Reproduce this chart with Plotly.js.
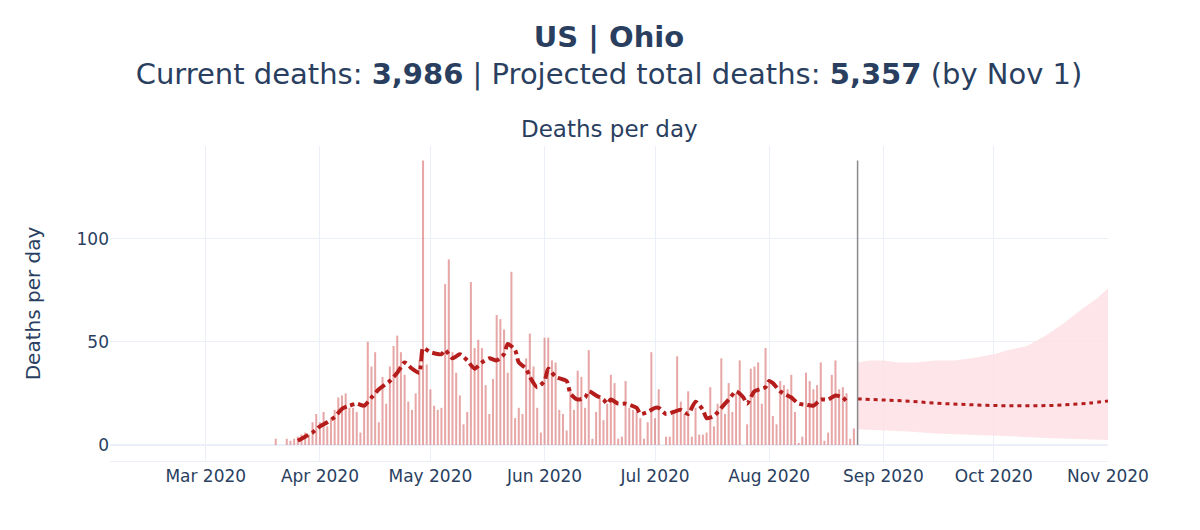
<!DOCTYPE html>
<html>
<head>
<meta charset="utf-8">
<script src="https://cdn.plot.ly/plotly-3.0.1.min.js"></script>
<style>html,body{margin:0;padding:0;background:#fff}#chart{width:1200px;height:530px}</style>
</head>
<body>
<div id="chart"></div>
<script>
// ---- data ----
const region = "US | Ohio";
const currentDeaths = "3,986";
const projectedDeaths = "5,357";
const projectionEnd = "Nov 1";
const todayDate = "2020-08-25";

const dailyStart = "2020-03-20";
const dailyDeaths = [
  3,0,0,3,2,3,4,5,6,5,11,15,            // Mar 20 - Mar 31
  11,16,9,13,17,23,24,25,18,18,16,6,18,50,38,45,11,33,20,38,48,53,45,34,21,17,25,41,138,39, // Apr
  27,19,17,18,78,90,45,35,24,10,16,79,47,51,47,29,15,32,63,61,56,35,84,13,18,15,42,54,38,18,6, // May
  52,52,41,40,17,15,7,27,17,36,33,18,46,3,16,23,12,20,34,30,3,4,31,18,17,16,13,3,11,45, // Jun
  13,27,0,4,4,16,43,21,15,26,4,18,5,5,6,28,9,20,42,15,30,16,25,41,0,10,37,38,40,20,47, // Jul
  31,14,10,31,29,27,34,16,1,4,35,31,27,29,40,2,6,34,41,27,28,25,3,8 // Aug 1 - Aug 24
];

const avgDates = ["2020-03-26","2020-03-28","2020-03-30","2020-04-01","2020-04-03","2020-04-05","2020-04-07","2020-04-09","2020-04-11","2020-04-13","2020-04-15","2020-04-17","2020-04-20","2020-04-22","2020-04-24","2020-04-26","2020-04-28","2020-04-29","2020-05-01","2020-05-04","2020-05-05","2020-05-07","2020-05-09","2020-05-11","2020-05-13","2020-05-15","2020-05-17","2020-05-19","2020-05-21","2020-05-22","2020-05-24","2020-05-25","2020-05-27","2020-05-28","2020-05-30","2020-06-01","2020-06-02","2020-06-04","2020-06-07","2020-06-08","2020-06-10","2020-06-12","2020-06-13","2020-06-15","2020-06-17","2020-06-18","2020-06-19","2020-06-21","2020-06-23","2020-06-26","2020-06-27","2020-06-29","2020-07-01","2020-07-02","2020-07-04","2020-07-06","2020-07-08","2020-07-10","2020-07-12","2020-07-14","2020-07-15","2020-07-17","2020-07-19","2020-07-21","2020-07-23","2020-07-25","2020-07-26","2020-07-28","2020-07-31","2020-08-01","2020-08-02","2020-08-04","2020-08-07","2020-08-09","2020-08-11","2020-08-13","2020-08-15","2020-08-17","2020-08-19","2020-08-21","2020-08-22"];
const avgValues = [2,4,6,9,11,13.5,17.5,19,20,19,23,27,31,35,40,37,35,47,45,44,46,42,44,41,37,40,42,41,44,49,46,40,37,33,28,31,37,33,31,25,22,23,26,24,22,20,22,20,20,18,15,16,18,18,15,16,17,15,21,17,13,14,18,22,26,23,20,26,28,31,30,26,23,20,19.5,19,22,22,24,23,21];

const projDates = ["2020-08-25","2020-09-01","2020-09-08","2020-09-15","2020-09-22","2020-09-29","2020-10-06","2020-10-13","2020-10-20","2020-10-27","2020-11-01"];
const projValues = [22.3,21.8,21.2,20.3,19.7,19.2,19.0,19.0,19.4,20.3,21.3];

const upperDates = ["2020-08-25","2020-08-28","2020-09-01","2020-09-05","2020-09-10","2020-09-15","2020-09-20","2020-09-25","2020-10-01","2020-10-05","2020-10-10","2020-10-15","2020-10-20","2020-10-25","2020-10-29","2020-11-01"];
const upperValues = [40,41,41,40,40,41,41,42,44,46,48,53,59,66,71,76];
const lowerDates = ["2020-08-25","2020-09-01","2020-09-08","2020-09-15","2020-09-22","2020-10-01","2020-10-08","2020-10-15","2020-10-22","2020-11-01"];
const lowerValues = [7.6,7,6.5,5.5,5,4.4,4,3.4,2.8,2.4];

// ---- build ----
function dateSeq(start, n) {
  const out = [];
  const d0 = new Date(start + "T00:00:00Z");
  for (let i = 0; i < n; i++) {
    const d = new Date(d0.getTime() + i * 86400000);
    out.push(d.toISOString().slice(0, 10));
  }
  return out;
}
const dailyDates = dateSeq(dailyStart, dailyDeaths.length);
const maxDeaths = Math.max(...dailyDeaths);

const textColor = "#2a3f5f";
const gridColor = "#EBF0F8";
const font = "DejaVu Sans, Verdana, sans-serif";

const traces = [
  {
    type: "scatter", mode: "lines",
    x: upperDates.concat(lowerDates.slice().reverse()),
    y: upperValues.concat(lowerValues.slice().reverse()),
    fill: "toself", fillcolor: "rgba(253,222,227,0.8)",
    line: {width: 0}, hoverinfo: "skip", showlegend: false
  },
  {
    type: "bar", x: dailyDates, y: dailyDeaths,
    marker: {color: "rgba(210,80,80,0.5)"}, showlegend: false
  },
  {
    type: "scatter", mode: "lines", x: avgDates, y: avgValues,
    line: {color: "#b51c1c", width: 4, dash: "dashdot", shape: "spline", smoothing: 0.6},
    showlegend: false
  },
  {
    type: "scatter", mode: "lines", x: projDates, y: projValues,
    line: {color: "#b51c1c", width: 3, dash: "4px,4px", shape: "spline"},
    showlegend: false
  }
];

const layout = {
  width: 1200, height: 530,
  paper_bgcolor: "#fff", plot_bgcolor: "#fff",
  font: {family: font, color: textColor, size: 17},
  margin: {l: 110, r: 92, t: 146, b: 69},
  bargap: 0.45,
  showlegend: false,
  title: {
    text: "<b>" + region + "</b><br>Current deaths: <b>" + currentDeaths +
          "</b> | Projected total deaths: <b>" + projectedDeaths + "</b> (by " + projectionEnd + ")",
    font: {size: 29, color: textColor, family: font},
    xref: "paper", x: 0.5, xanchor: "center", yref: "container", y: 0.912, yanchor: "top"
  },
  xaxis: {
    type: "date", range: ["2020-02-04", "2020-11-01"],
    dtick: "M1", tickformat: "%b %Y",
    showgrid: true, gridcolor: gridColor, gridwidth: 1,
    showline: true, linecolor: gridColor, linewidth: 1,
    ticks: "", tickfont: {size: 17}, zeroline: false
  },
  yaxis: {
    range: [-7.8, 145], tickvals: [0, 50, 100],
    showgrid: true, gridcolor: gridColor, gridwidth: 1,
    zeroline: true, zerolinecolor: gridColor, zerolinewidth: 2,
    ticks: "", tickfont: {size: 17},
    title: {text: "Deaths per day", font: {size: 20}, standoff: 30}
  },
  annotations: [{
    text: "Deaths per day", xref: "paper", yref: "paper", x: 0.5, y: 1,
    xanchor: "center", yanchor: "bottom", yshift: 2, showarrow: false,
    font: {size: 23, color: textColor}
  }],
  shapes: [{
    type: "line", xref: "x", yref: "y",
    x0: todayDate, x1: todayDate, y0: 0, y1: maxDeaths,
    line: {color: "#8a8a8a", width: 1.5}
  }]
};

Plotly.newPlot("chart", traces, layout, {displayModeBar: false, staticPlot: true});
</script>
</body>
</html>
